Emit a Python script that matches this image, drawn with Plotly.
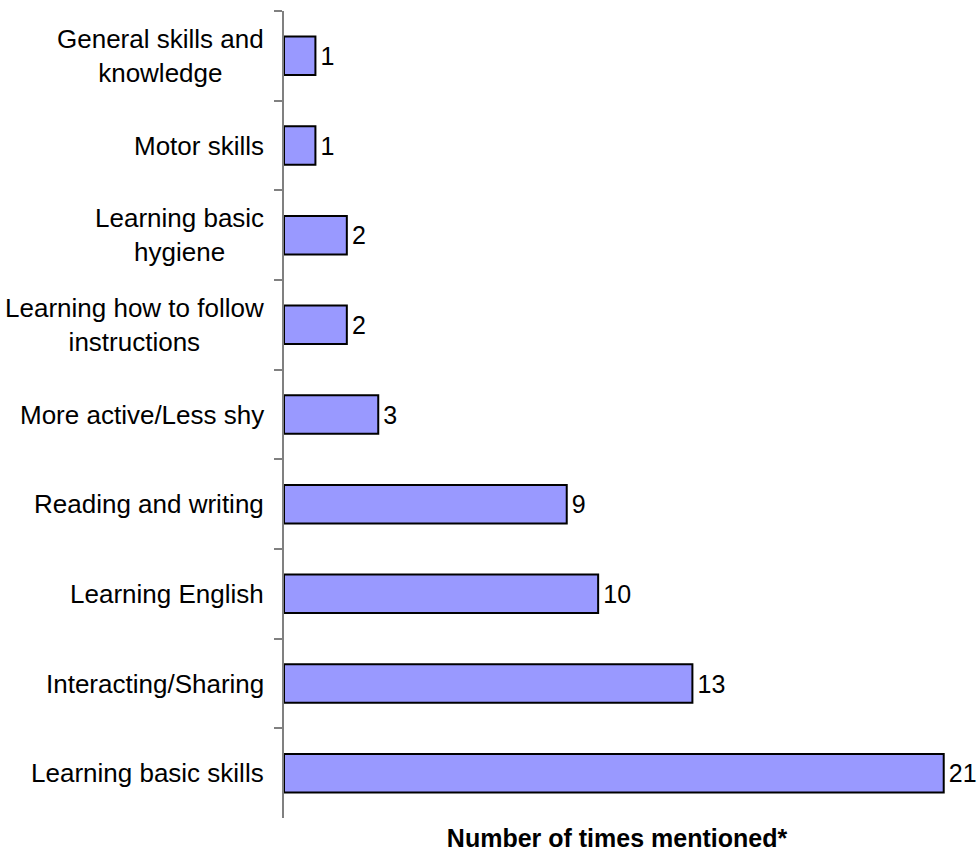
import plotly.graph_objects as go

categories = [
    "General skills and<br>knowledge",
    "Motor skills",
    "Learning basic<br>hygiene",
    "Learning how to follow<br>instructions",
    "More active/Less shy",
    "Reading and writing",
    "Learning English",
    "Interacting/Sharing",
    "Learning basic skills",
]
values = [1, 1, 2, 2, 3, 9, 10, 13, 21]
value_labels = ["\u200a" + str(v) for v in values]

FONT = "Liberation Sans, Arial, sans-serif"

fig = go.Figure(
    go.Bar(
        x=values,
        y=categories,
        orientation="h",
        marker=dict(color="#9999FF", line=dict(color="#000000", width=2)),
        text=value_labels,
        textposition="outside",
        textfont=dict(family=FONT, size=25, color="#000000"),
        cliponaxis=False,
    )
)

annotations = [
    dict(
        x=0, xref="paper", y=c, yref="y",
        text=c, showarrow=False, xanchor="right", yanchor="middle",
        align="center", xshift=-18,
        font=dict(family=FONT, size=26, color="#000000"),
    )
    for c in categories
]

fig.update_layout(
    width=980, height=852,
    margin=dict(l=284, r=30, t=11, b=34),
    paper_bgcolor="white", plot_bgcolor="white",
    showlegend=False,
    bargap=0.57,
    annotations=annotations,
    xaxis=dict(
        range=[0, 21.2], showgrid=False, zeroline=False, showline=False,
        showticklabels=False, ticks="",
        title=dict(text="<b>Number of times mentioned*</b>",
                   font=dict(family=FONT, size=25, color="#000000"), standoff=12),
        automargin=False,
    ),
    yaxis=dict(
        autorange="reversed", showgrid=False, zeroline=False,
        showline=True, linecolor="#808080", linewidth=1.5,
        ticks="outside", tickson="boundaries", ticklen=8, tickcolor="#808080", tickwidth=1.5,
        showticklabels=False, automargin=False,
    ),
)

fig.write_html("out.html")
